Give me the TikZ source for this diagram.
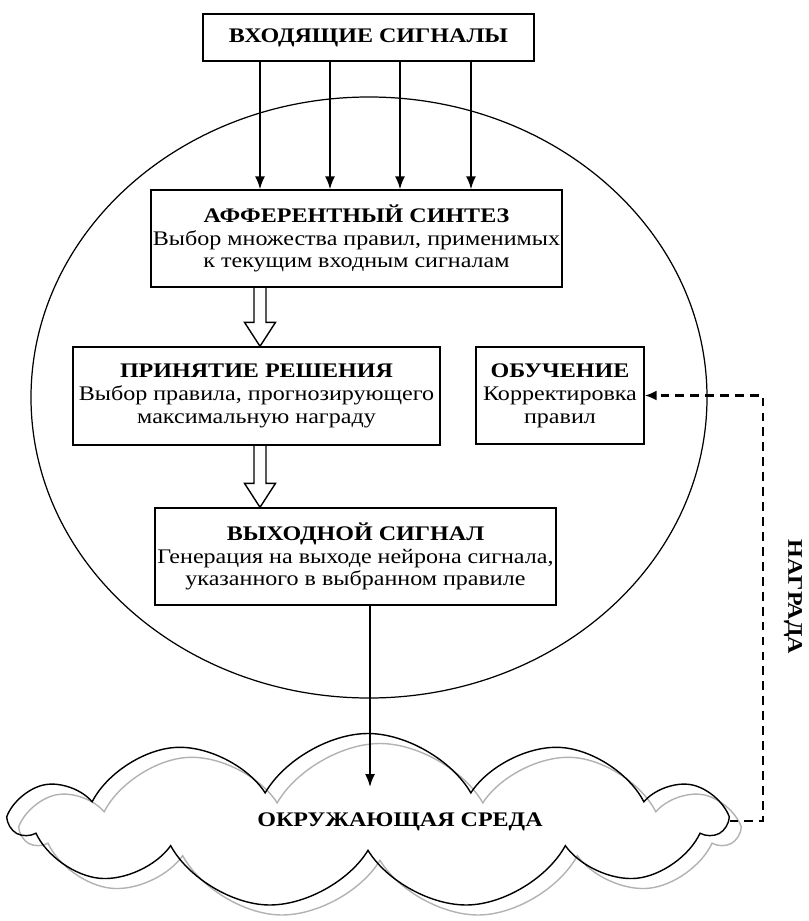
\documentclass[tikz,border=0pt]{standalone}
\usepackage{fontspec}
\setmainfont{Liberation Serif}[FakeStretch=1.16]
\usetikzlibrary{arrows.meta,shapes.symbols,calc}

\tikzset{
  box/.style={draw, line width=0.8pt, align=center, inner sep=1pt,
    font=\fontsize{11.8}{13}\selectfont},
  sig/.style={-{Latex[length=2.6mm,width=2mm]}, line width=1pt},
  hol/.style={draw, line width=0.8pt, to path={let \p1=(\tikztostart), \p2=(\tikztotarget) in
    (\x1-3.4pt,\y1) -- (\x1-3.4pt,\y2+13.6pt) -- (\x1-8.8pt,\y2+13.6pt) -- (\x2,\y2)
    -- (\x1+8.8pt,\y2+13.6pt) -- (\x1+3.4pt,\y2+13.6pt) -- (\x1+3.4pt,\y1)}},
  rew/.style={-{Latex[length=2.4mm,width=2mm]}, line width=1.3pt, dash pattern=on 5pt off 3.5pt},
  env/.style={cloud, draw, cloud puffs=11, cloud puff arc=120, aspect=4.2,
    minimum width=14.2cm, minimum height=3.5cm, line width=0.8pt}
}

\begin{document}
\begin{tikzpicture}
\useasboundingbox (0,0) rectangle (16.16,-18.42);

% neuron
\draw[line width=0.7pt] (7.38,-7.95) ellipse (6.76 and 6.01);

% blocks
\node[box, minimum width=6.62cm, minimum height=0.94cm] (in) at (7.37,-0.75)
  {\textbf{ВХОДЯЩИЕ СИГНАЛЫ}};
\node[box, minimum width=8.1cm, minimum height=1.94cm] (aff) at (7.13,-4.77)
  {\textbf{АФФЕРЕНТНЫЙ СИНТЕЗ}\\Выбор множества правил, применимых\\к текущим входным сигналам};
\node[box, minimum width=7.34cm, minimum height=1.96cm] (dec) at (5.13,-7.92)
  {\textbf{ПРИНЯТИЕ РЕШЕНИЯ}\\Выбор правила, прогнозирующего\\максимальную награду};
\node[box, minimum width=3.36cm, minimum height=1.94cm] (learn) at (11.2,-7.91)
  {\textbf{ОБУЧЕНИЕ}\\Корректировка\\правил};
\node[box, minimum width=8.02cm, minimum height=1.94cm] (out) at (7.11,-11.13)
  {\textbf{ВЫХОДНОЙ СИГНАЛ}\\Генерация на выходе нейрона сигнала,\\указанного в выбранном правиле};

% environment
\node[env, draw=gray!60] (cldsh) at (7.6,-16.62) {};
\node[env] (cld) at (7.36,-16.42) {};
\node[font=\fontsize{11.8}{13}\selectfont\bfseries] (envlbl) at (8.0,-16.44) {ОКРУЖАЮЩАЯ СРЕДА};

% input signals
\foreach \x [count=\i] in {5.2,6.6,8.0,9.42}{
  \coordinate (s\i) at (\x,0);
  \draw[sig] (in.south -| s\i) -- (aff.north -| s\i);
}

% hollow arrows
\coordinate (hx) at (5.2,0);
\draw[hol] (aff.south -| hx) to (dec.north -| hx);
\draw[hol] (dec.south -| hx) to (out.north -| hx);

% output
\coordinate (ox) at (7.4,0);
\coordinate (envtip) at (7.4,-15.74);
\draw[sig] (out.south -| ox) -- (envtip);

% reward
\coordinate (rc) at (15.26,0);
\draw[rew] (cld.east) -- (cld.east -| rc) -- (learn.east -| rc) -- (learn.east);
\node[font=\fontsize{11.8}{13}\selectfont\bfseries, rotate=-90] (rewlbl) at (15.86,-11.94) {НАГРАДА};
\end{tikzpicture}
\end{document}
